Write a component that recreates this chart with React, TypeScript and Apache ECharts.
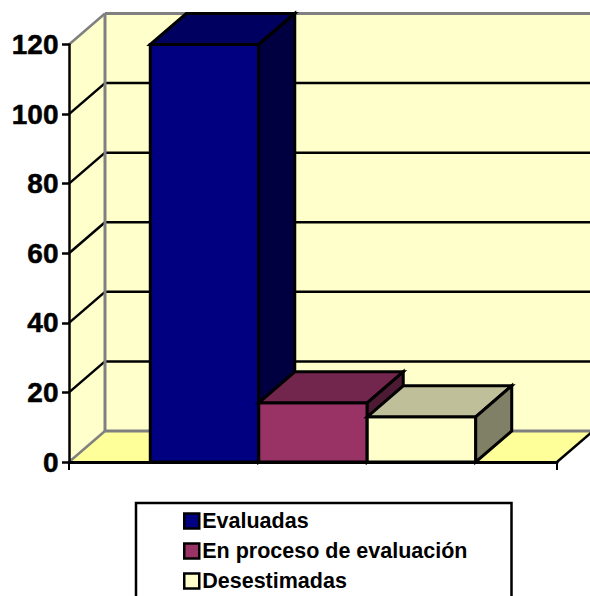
import React, { useEffect, useRef } from "react";
import * as echarts from "echarts";

const categories = [""];
const seriesNames = ["Evaluadas", "En proceso de evaluación", "Desestimadas"];
const seriesValues = [120, 17, 13];
const frontColors = ["#000080", "#993366", "#FFFFCC"];
const topColors = ["#000060", "#73264D", "#BFBF99"];
const sideColors = ["#000040", "#4D1A33", "#808066"];
const yTicks = [0, 20, 40, 60, 80, 100, 120];

const DX = 36;
const DY = -31;
const BAR_RATIO = 0.2223;
const FONT = '"Liberation Sans", Arial, sans-serif';

function poly(points: number[][], fill: string, stroke: string, lineWidth: number) {
  return { type: "polygon", shape: { points }, style: { fill, stroke, lineWidth, lineJoin: "miter" } };
}
function seg(a: number[], b: number[], stroke: string, lineWidth: number) {
  return { type: "line", shape: { x1: a[0], y1: a[1], x2: b[0], y2: b[1] }, style: { stroke, lineWidth } };
}

function wallRender(_: any, api: any) {
  const center = api.coord([0, 0])[0];
  const band = api.size([1, 0])[0];
  const xL = center - band / 2;
  const xR = center + band / 2;
  const y0 = api.coord([0, 0])[1];
  const yTop = api.coord([0, yTicks[yTicks.length - 1]])[1];
  const children: any[] = [
    { type: "rect", shape: { x: xL + DX, y: yTop + DY, width: xR - xL, height: y0 - yTop }, style: { fill: "#FFFFCC" } },
    { type: "polygon", shape: { points: [[xL, yTop], [xL + DX, yTop + DY], [xL + DX, y0 + DY], [xL, y0]] }, style: { fill: "#FFFFCC" } },
    { type: "polygon", shape: { points: [[xL, y0], [xL + DX, y0 + DY], [xR + DX, y0 + DY], [xR, y0]] }, style: { fill: "#FFFF99" } },
  ];
  yTicks.slice(1, -1).forEach((t) => {
    const y = api.coord([0, t])[1];
    children.push(seg([xL, y], [xL + DX, y + DY], "#000", 2.5));
    children.push(seg([xL + DX, y + DY], [xR + DX, y + DY], "#000", 2.5));
  });
  children.push(seg([xL, yTop], [xL + DX, yTop + DY], "#808080", 2.5));
  children.push(seg([xL + DX, yTop + DY], [xR + DX, yTop + DY], "#808080", 3));
  children.push(seg([xL + DX, yTop + DY], [xL + DX, y0 + DY], "#808080", 3));
  children.push(seg([xL + DX, y0 + DY], [xR + DX, y0 + DY], "#808080", 3));
  children.push(seg([xL, y0], [xL + DX, y0 + DY], "#808080", 2.5));
  children.push(seg([xR, y0], [xR + DX, y0 + DY], "#000", 2.5));
  return { type: "group", children };
}

function barRender(index: number) {
  return (_: any, api: any) => {
    const p = api.coord([api.value(0), api.value(1)]);
    const base = api.coord([api.value(0), 0]);
    const w = api.size([1, 0])[0] * BAR_RATIO;
    const l = p[0] - (w * seriesValues.length) / 2 + w * index;
    const r = l + w;
    const t = p[1];
    const b = base[1];
    const lw = 3;
    return {
      type: "group",
      children: [
        poly([[l, t], [r, t], [r, b], [l, b]], frontColors[index], "#000", lw),
        poly([[l, t], [l + DX, t + DY], [r + DX, t + DY], [r, t]], topColors[index], "#000", lw),
        poly([[r, t], [r + DX, t + DY], [r + DX, b + DY], [r, b]], sideColors[index], "#000", lw),
      ],
    };
  };
}

export default function App() {
  const ref = useRef<HTMLDivElement>(null);
  useEffect(() => {
    document.body.style.margin = "0";
    const chart = echarts.init(ref.current!, undefined, { renderer: "svg" });
    chart.setOption({
      animation: false,
      backgroundColor: "#fff",
      grid: { left: 69, right: 33, top: 44.5, bottom: 134 },
      xAxis: {
        type: "category",
        data: categories,
        z: 10,
        axisLine: { lineStyle: { color: "#000", width: 3 } },
        axisTick: { show: true, length: 8, lineStyle: { color: "#000", width: 2 } },
        axisLabel: { show: false },
      },
      yAxis: {
        type: "value",
        min: 0,
        max: 120,
        interval: 20,
        z: 10,
        axisLine: { show: true, lineStyle: { color: "#000", width: 2.5 } },
        axisTick: { show: true, length: 7, lineStyle: { color: "#000", width: 2.5 } },
        splitLine: { show: false },
        axisLabel: { margin: 10.5, color: "#000", fontFamily: FONT, fontWeight: "bold", fontSize: 28, textBorderColor: "#000", textBorderWidth: 0.5 },
      },
      legend: {
        left: 136,
        top: 503,
        height: 300,
        orient: "vertical",
        align: "left",
        padding: [7, 44, 30, 47],
        itemGap: 8,
        itemWidth: 15,
        itemHeight: 15,
        backgroundColor: "#fff",
        borderColor: "#000",
        borderWidth: 2.5,
        borderRadius: 0,
        icon: "rect",
        selectedMode: false,
        itemStyle: { borderColor: "#000", borderWidth: 2.5 },
        textStyle: { color: "#000", fontFamily: FONT, fontWeight: "bold", fontSize: 21.5, padding: [0, 0, 0, -2] },
        data: seriesNames,
      },
      series: [
        {
          type: "custom",
          name: "walls",
          z: 1,
          silent: true,
          renderItem: wallRender,
          data: [[0, 0]],
          encode: { x: 0, y: 1 },
        },
        ...seriesNames.map((name, i) => ({
          type: "custom",
          name,
          z: 2 + i,
          itemStyle: { color: frontColors[i] },
          renderItem: barRender(i),
          data: [[0, seriesValues[i]]],
          encode: { x: 0, y: 1 },
        })),
      ],
    });
    return () => chart.dispose();
  }, []);
  return <div ref={ref} style={{ width: 590, height: 596 }} />;
}
